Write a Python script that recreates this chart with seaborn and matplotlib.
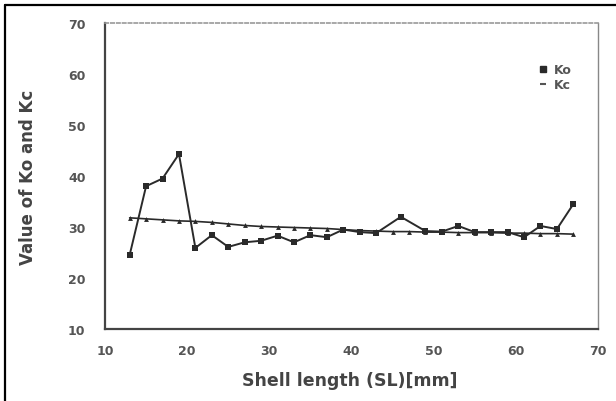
import matplotlib
matplotlib.use("Agg")
import matplotlib.pyplot as plt
from matplotlib.lines import Line2D
import seaborn as sns
import pandas as pd

# Data
ko_x = [13, 15, 17, 19, 21, 23, 25, 27, 29, 31, 33, 35, 37, 39, 41, 43, 46,
        49, 51, 53, 55, 57, 59, 61, 63, 65, 67]
ko_y = [24.5, 38.0, 39.5, 44.3, 25.9, 28.4, 26.1, 27.0, 27.3, 28.3, 27.0, 28.4,
        28.0, 29.5, 29.0, 28.8, 32.0, 29.2, 29.1, 30.2, 29.0, 29.0, 29.0, 28.0,
        30.2, 29.6, 34.5]
kc_x = [13, 15, 17, 19, 21, 23, 25, 27, 29, 31, 33, 35, 37, 39, 41, 43, 45,
        47, 49, 51, 53, 55, 57, 59, 61, 63, 65, 67]
kc_y = [31.8, 31.6, 31.4, 31.2, 31.1, 30.9, 30.6, 30.3, 30.1, 30.0, 29.9, 29.8,
        29.7, 29.5, 29.3, 29.2, 29.1, 29.1, 29.0, 29.0, 28.9, 28.9, 28.9, 28.8,
        28.8, 28.7, 28.7, 28.6]
x_ticks = [10, 20, 30, 40, 50, 60, 70]
y_ticks = [10, 20, 30, 40, 50, 60, 70]
legend_labels = ["Ko", "Kc"]
x_label = "Shell length (SL)[mm]"
y_label = "Value of Ko and Kc"

sns.set_style("white")
plt.rcParams["font.family"] = ["DejaVu Sans"]

fig = plt.figure(figsize=(6.16, 4.02), dpi=100)
ax = fig.add_axes([105 / 616, 1 - 330 / 402, 493 / 616, 306 / 402])

ko_df = pd.DataFrame({"x": ko_x, "y": ko_y})
kc_df = pd.DataFrame({"x": kc_x, "y": kc_y})

line_col = "#2a2a2a"
sns.lineplot(data=kc_df, x="x", y="y", ax=ax, color=line_col, lw=1.2,
             marker="^", markersize=3.5, markeredgewidth=0, sort=False)
sns.lineplot(data=ko_df, x="x", y="y", ax=ax, color=line_col, lw=1.4,
             marker="s", markersize=4.6, markeredgewidth=0, sort=False)

ax.set_xlim(10, 70)
ax.set_ylim(10, 70)
ax.set_xticks(x_ticks)
ax.set_yticks(y_ticks)
ax.tick_params(axis="both", direction="out", length=3, width=0.8,
               colors="#777777", labelsize=9, labelcolor="#555555")
ax.tick_params(axis="y", pad=11)
ax.tick_params(axis="x", pad=8)
for lab in ax.get_xticklabels() + ax.get_yticklabels():
    lab.set_fontweight("bold")

ax.set_xlabel(x_label, fontsize=12.5, fontweight="bold", color="#444444")
ax.set_ylabel(y_label, fontsize=12, fontweight="bold", color="#444444")
ax.xaxis.set_label_coords(0.497, -0.167)
ax.yaxis.set_label_coords(-0.156, 0.5)
ax.xaxis.label.set_va("center")
ax.yaxis.label.set_va("center")

for side in ["left", "bottom"]:
    ax.spines[side].set_color("#444444")
    ax.spines[side].set_linewidth(1.6)
ax.spines["top"].set_color("#999999")
ax.spines["top"].set_linewidth(1.2)
ax.spines["top"].set_linestyle((0, (2, 1.5)))
ax.spines["right"].set_color("#888888")
ax.spines["right"].set_linewidth(1.0)

handles = [
    Line2D([], [], color=line_col, marker="s", linestyle="none", markersize=4.5),
    Line2D([], [], color="#555555", marker="_", linestyle="none", markersize=5,
           markeredgewidth=1.5),
]
ax.legend(handles, legend_labels, loc="upper left", bbox_to_anchor=(0.855, 0.905),
          frameon=False, handlelength=0.8, handletextpad=0.5, labelspacing=0.15,
          prop={"size": 9, "weight": "bold"}, labelcolor="#555555")

# outer frame (left and top only)
fig.add_artist(Line2D([5 / 616, 5 / 616], [0, 1 - 6 / 402], transform=fig.transFigure,
                      color="black", lw=1.6))
fig.add_artist(Line2D([5 / 616, 1], [1 - 6 / 402, 1 - 6 / 402], transform=fig.transFigure,
                      color="black", lw=1.6))

fig.savefig("out.png", dpi=100, facecolor="white")
